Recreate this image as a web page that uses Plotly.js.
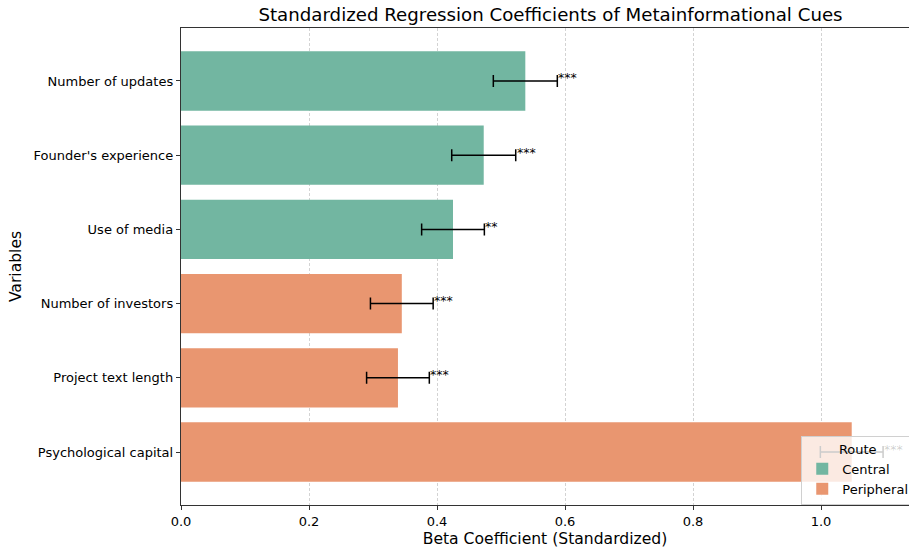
<!DOCTYPE html>
<html>
<head>
<meta charset="utf-8">
<script src="https://cdn.plot.ly/plotly-3.0.1.min.js"></script>
<style>html,body{margin:0;padding:0;background:#fff;}#chart{width:909px;height:552px;}</style>
</head>
<body>
<div id="chart"></div>
<script>
// Data (top to bottom)
const variables = ["Number of updates", "Founder's experience", "Use of media", "Number of investors", "Project text length", "Psychological capital"];
const routes = ["Central", "Central", "Central", "Peripheral", "Peripheral", "Peripheral"];
const betas = [0.538, 0.473, 0.425, 0.345, 0.339, 1.048];
const errors = [0.05, 0.05, 0.049, 0.049, 0.049, 0.049];
const sig = ["***", "***", "**", "***", "***", "***"];

const routeColors = {Central: "#72b6a1", Peripheral: "#e99670"};
const routeNames = ["Central", "Peripheral"];

const traces = routeNames.map(r => {
  const idx = variables.map((v, i) => i).filter(i => routes[i] === r);
  return {
    type: "bar",
    orientation: "h",
    name: r,
    y: idx.map(i => variables[i]),
    x: idx.map(i => betas[i]),
    width: 0.8,
    marker: {color: routeColors[r], line: {width: 0}},
    error_x: {type: "data", array: idx.map(i => errors[i]), visible: true, color: "#000", thickness: 1.5, width: 6}
  };
});

// the last marker sits behind the semi-transparent legend in the reference
const annotations = variables.map((v, i) => ({
  x: betas[i] + errors[i], y: v, xref: "x", yref: "y",
  text: sig[i], showarrow: false, xanchor: "left", yanchor: "middle",
  yshift: 3, xshift: -1,
  font: {family: "DejaVu Sans", size: 12.5, color: i === variables.length - 1 ? "rgba(0,0,0,0.2)" : "#000"}
}));

const layout = {
  width: 909, height: 552,
  margin: {l: 181, r: 0, t: 28, b: 47, pad: 0, autoexpand: false},
  paper_bgcolor: "#fff", plot_bgcolor: "#fff",
  font: {family: "DejaVu Sans", size: 13, color: "#000"},
  barmode: "overlay",
  showlegend: true,
  title: {text: "Standardized Regression Coefficients of Metainformational Cues",
    font: {family: "DejaVu Sans", size: 18.2, color: "#000"},
    x: 550.5 / 909, xanchor: "center", xref: "container",
    y: 1 - 15 / 552, yref: "container", yanchor: "middle"},
  xaxis: {
    range: [0, 1.1375], tickvals: [0, 0.2, 0.4, 0.6, 0.8, 1.0], tickformat: ".1f",
    showgrid: true, gridcolor: "#d3d3d3", griddash: "3px,2px", gridwidth: 1,
    showline: true, linecolor: "#333", linewidth: 1.2, mirror: true,
    ticks: "outside", ticklen: 4, tickcolor: "#333", zeroline: false,
    tickfont: {family: "DejaVu Sans", size: 13},
    title: {text: "Beta Coefficient (Standardized)", font: {family: "DejaVu Sans", size: 15.6}, standoff: 5}
  },
  yaxis: {
    type: "category", categoryorder: "array", categoryarray: variables.slice().reverse(),
    range: [-0.714, 5.714], showgrid: false,
    showline: true, linecolor: "#333", linewidth: 1.2, mirror: false,
    ticks: "outside", ticklen: 4, tickcolor: "#333", zeroline: false,
    tickfont: {family: "DejaVu Sans", size: 13},
    title: {text: "Variables", font: {family: "DejaVu Sans", size: 15.6}, standoff: 8}
  },
  legend: {
    x: 0.852, y: 0.1447, xanchor: "left", yanchor: "top",
    bgcolor: "rgba(255,255,255,0.8)", bordercolor: "#d0d0d0", borderwidth: 1,
    font: {family: "DejaVu Sans", size: 13},
    title: {text: "Route", side: "top center", font: {family: "DejaVu Sans", size: 13}},
    tracegroupgap: 0, itemwidth: 30
  },
  annotations: annotations
};

Plotly.newPlot("chart", traces, layout, {displayModeBar: false, staticPlot: true});
</script>
</body>
</html>
